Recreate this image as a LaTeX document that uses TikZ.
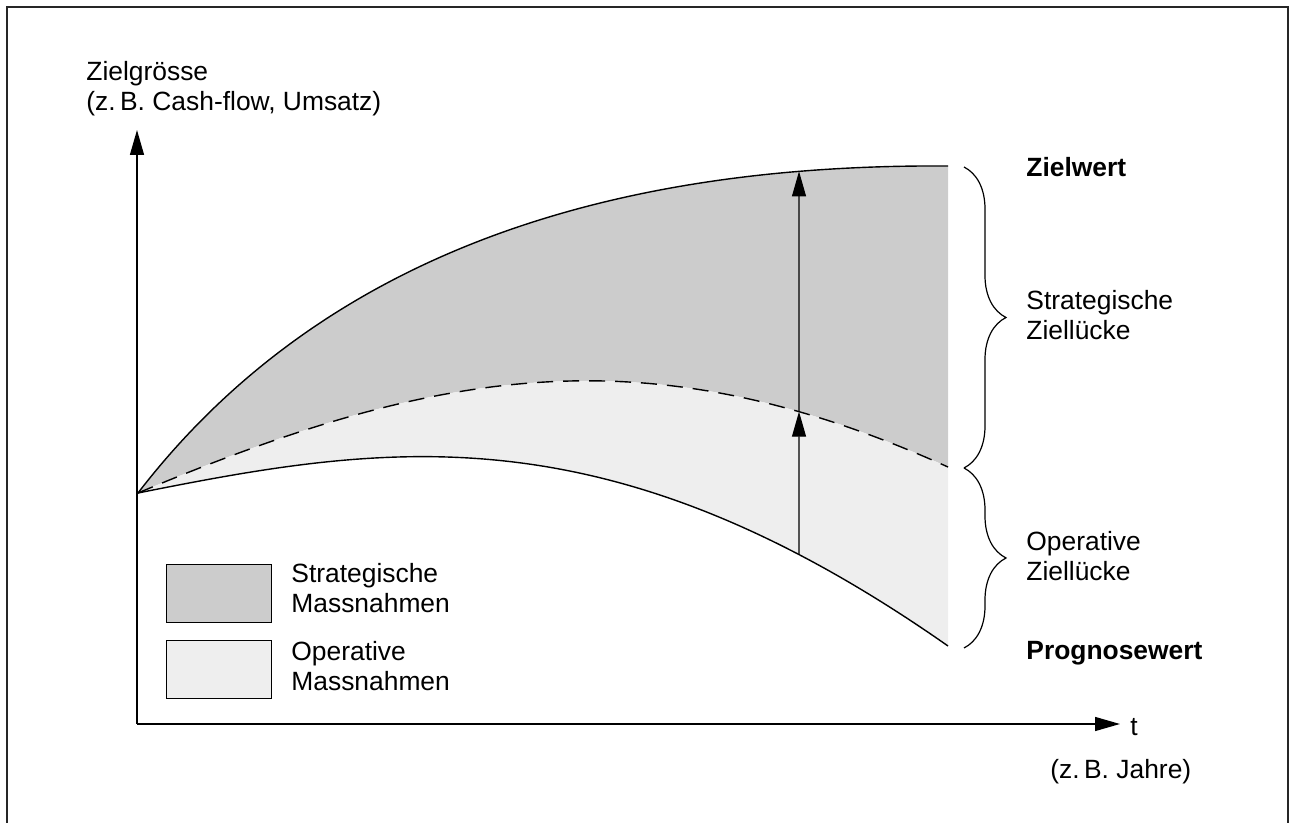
\documentclass[tikz,border=0pt]{standalone}
\usepackage{fontspec}
\setmainfont{Liberation Sans}
\usetikzlibrary{arrows.meta,decorations.pathreplacing,intersections}

\definecolor{stratfill}{HTML}{CCCCCC}
\definecolor{opfill}{HTML}{EEEEEE}

\begin{document}
\begin{tikzpicture}[x=0.5pt,y=-0.5pt,
  lbl/.style={anchor=base west, inner sep=0pt, align=left,
    font=\fontsize{13.2}{15}\selectfont},
  boldlbl/.style={lbl, font=\fontsize{13.2}{15}\selectfont\bfseries},
  curve/.style={line width=0.7pt},
  axis/.style={line width=0.7pt, -{Triangle[length=12.5pt,width=7pt]}},
  gaparrow/.style={line width=0.6pt, -{Triangle[length=12.5pt,width=7pt]}},
  gapbrace/.style={line width=0.6pt, decorate, decoration={brace, amplitude=21pt}},
  legendbox/.style={draw, line width=0.6pt, minimum width=52.5pt, minimum height=29pt, inner sep=0pt},
  frame/.style={line width=0.8pt, draw=black!85}]
\useasboundingbox (0,0) rectangle (1292,823);

% outer frame (open at the bottom)
\draw[frame] (7,823) -- (7,7) -- (1288,7) -- (1288,823);

% key points of the chart
\coordinate (O)  at (138,493);
\coordinate (zw) at (948,166);
\coordinate (sg) at (948,467);
\coordinate (pg) at (948,646);
\coordinate (ax) at (137,724);
\coordinate (ytip) at (137,130);
\coordinate (xtip) at (1120,724);

% shaded areas between the three curves
\fill[stratfill] (O) .. controls (338,233) and (648,164) .. (zw) -- (sg)
  .. controls (648,332) and (438,367) .. (O) -- cycle;
\fill[opfill] (O) .. controls (438,367) and (648,332) .. (sg) -- (pg)
  .. controls (608,408) and (388,443) .. (O) -- cycle;

% target, intermediate (dashed) and forecast curves
\draw[curve, name path=topc] (O) .. controls (338,233) and (648,164) .. (zw);
\draw[curve, dash pattern=on 8pt off 5pt, name path=midc] (O) .. controls (438,367) and (648,332) .. (sg);
\draw[curve, name path=lowc] (O) .. controls (388,443) and (608,408) .. (pg);

% axes
\draw[axis] (ax) -- (ytip);
\draw[axis] (ax) -- (xtip);

% gap arrows
\path[name path=vline] (799,100) -- (799,700);
\path[name intersections={of=vline and lowc, by=m0}];
\path[name intersections={of=vline and midc, by=m1}];
\path[name intersections={of=vline and topc, by=m2}];
\draw[gaparrow] (m0) -- (m1);
\draw[gaparrow] (m1) -- (m2);

% braces
\coordinate (b0) at (964,167);
\coordinate (b1) at (964,468);
\coordinate (b2) at (964,648);
\draw[gapbrace] (b0) -- (b1);
\draw[gapbrace] (b1) -- (b2);

% axis labels (anchored at the baseline of the last line)
\node[lbl] (ylab) at (86,111) {Zielgrösse\\(z.\,B. Cash-flow, Umsatz)};
\node[lbl] (tlab) at (1130,735) {t};
\node[lbl] (tunit) at (1050,778) {(z.\,B. Jahre)};

% right-hand labels
\node[boldlbl] (zielwert) at (1026,177) {Zielwert};
\node[lbl] (strat) at (1026,340) {Strategische\\Ziellücke};
\node[lbl] (oper) at (1026,581) {Operative\\Ziellücke};
\node[boldlbl] (prog) at (1026,660) {Prognosewert};

% legend
\node[legendbox, fill=stratfill, anchor=north west] (lg1) at (166,564) {};
\node[legendbox, fill=opfill, anchor=north west] (lg2) at (166,640) {};
\node[lbl] (lt1) at (291,613) {Strategische\\Massnahmen};
\node[lbl] (lt2) at (291,690) {Operative\\Massnahmen};
\end{tikzpicture}
\end{document}
